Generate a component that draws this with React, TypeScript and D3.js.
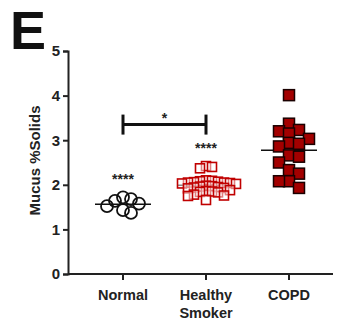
import React, { useEffect, useRef } from "react";
import * as d3 from "d3";

// Groups along the x axis
const categories = ["Normal", "Healthy Smoker", "COPD"];
const categoryLines = [["Normal"], ["Healthy", "Smoker"], ["COPD"]];

// Mucus % solids per subject
const normalValues = [1.52, 1.64, 1.37, 1.58, 1.72, 1.68, 1.43];
const smokerValues = [
  2.42, 2.4, 2.37,
  2.1, 2.09, 2.08, 2.07, 2.06, 2.05, 2.05, 2.04, 2.03, 2.02,
  1.98, 1.97, 1.96, 1.95, 1.94, 1.93, 1.92,
  1.88, 1.86, 1.85, 1.84, 1.83,
  1.78, 1.76, 1.75,
  1.66,
];
const copdValues = [
  4.01, 3.37, 3.2, 3.23, 3.15, 3.03, 2.94, 2.86, 2.92, 2.66, 2.63, 2.5,
  2.33, 2.25, 2.08, 2.08, 1.93,
];

const yTicks = [0, 1, 2, 3, 4, 5];
const groupStars = ["****", "****", ""];
const bracketLabel = "*";
const bracketValue = 3.35;

const W = 340;
const H = 324;
const margin = { top: 51, right: 7, bottom: 50, left: 68 };
const FONT = "'Liberation Sans', Arial, sans-serif";

// simple beeswarm: push points sideways until they stop overlapping
function swarm(values: number[], y: (v: number) => number, step: number, gap: number) {
  const placed: { v: number; dx: number; py: number }[] = [];
  const sorted = [...values].sort((a, b) => b - a);
  for (const v of sorted) {
    const py = y(v);
    let k = 0;
    let dx = 0;
    while (true) {
      dx = k === 0 ? 0 : (k % 2 === 1 ? 1 : -1) * Math.ceil(k / 2) * step;
      const hit = placed.some(
        (p) => Math.abs(p.py - py) < gap && Math.abs(p.dx - dx) < step * 0.9
      );
      if (!hit) break;
      k++;
    }
    placed.push({ v, dx, py });
  }
  return placed;
}

const App: React.FC = () => {
  const ref = useRef<SVGSVGElement>(null);

  useEffect(() => {
    if (!ref.current) return;
    const svg = d3.select(ref.current);
    svg.selectAll("*").remove();

    const y = d3
      .scaleLinear()
      .domain([0, 5])
      .range([H - margin.bottom, margin.top]);
    const x = d3
      .scalePoint<string>()
      .domain(categories)
      .range([margin.left + 55, W - margin.right - 44]);

    // panel letter
    svg
      .append("text")
      .attr("x", 10)
      .attr("y", 49)
      .attr("font-family", FONT)
      .attr("font-weight", "bold")
      .attr("font-size", 54)
      .attr("fill", "#111")
      .text("E");

    // y axis
    const gy = svg
      .append("g")
      .attr("transform", `translate(${margin.left},0)`)
      .call(d3.axisLeft(y).tickValues(yTicks).tickSize(5).tickPadding(3).tickFormat(d3.format("d")));
    gy.select(".domain").attr("stroke", "#222").attr("stroke-width", 2);
    gy.selectAll(".tick line").attr("stroke", "#222").attr("stroke-width", 2);
    gy.selectAll(".tick text")
      .attr("font-family", FONT)
      .attr("font-weight", "bold")
      .attr("font-size", 15)
      .attr("fill", "#222");

    // x axis
    const xAxisY = y(0);
    svg
      .append("line")
      .attr("x1", margin.left)
      .attr("x2", W - margin.right)
      .attr("y1", xAxisY)
      .attr("y2", xAxisY)
      .attr("stroke", "#222")
      .attr("stroke-width", 2);
    categories.forEach((c, i) => {
      const cx = x(c)!;
      svg
        .append("line")
        .attr("x1", cx)
        .attr("x2", cx)
        .attr("y1", xAxisY)
        .attr("y2", xAxisY + 6)
        .attr("stroke", "#222")
        .attr("stroke-width", 2);
      categoryLines[i].forEach((line, j) => {
        svg
          .append("text")
          .attr("x", cx)
          .attr("y", xAxisY + 26 + j * 18)
          .attr("text-anchor", "middle")
          .attr("font-family", FONT)
          .attr("font-weight", "bold")
          .attr("font-size", 14.5)
          .attr("fill", "#222")
          .text(line);
      });
    });

    // y axis title
    svg
      .append("text")
      .attr("transform", `translate(40,${(y(0) + y(5)) / 2 - 2}) rotate(-90)`)
      .attr("text-anchor", "middle")
      .attr("font-family", FONT)
      .attr("font-weight", "bold")
      .attr("font-size", 15)
      .attr("fill", "#222")
      .text("Mucus %Solids");

    // mean lines
    const groups = [normalValues, smokerValues, copdValues];
    groups.forEach((vals, i) => {
      const cx = x(categories[i])!;
      const m = d3.mean(vals)!;
      svg
        .append("line")
        .attr("x1", cx - 28)
        .attr("x2", cx + 28)
        .attr("y1", y(m))
        .attr("y2", y(m))
        .attr("stroke", "#111")
        .attr("stroke-width", 1.5);
    });

    // Normal: open circles
    const nx = x(categories[0])!;
    swarm(normalValues, y, 8, 10).forEach((p) => {
      svg
        .append("circle")
        .attr("cx", nx + p.dx)
        .attr("cy", p.py)
        .attr("r", 6)
        .attr("fill", "none")
        .attr("stroke", "#111")
        .attr("stroke-width", 1.8);
    });

    // Healthy smoker: open red squares
    const sx = x(categories[1])!;
    const ss = 9;
    swarm(smokerValues, y, 6, 5).forEach((p) => {
      svg
        .append("rect")
        .attr("x", sx + p.dx - ss / 2)
        .attr("y", p.py - ss / 2)
        .attr("width", ss)
        .attr("height", ss)
        .attr("fill", "white")
        .attr("fill-opacity", 0.5)
        .attr("stroke", "#c00000")
        .attr("stroke-width", 1.6);
    });

    // COPD: filled dark red squares
    const cx = x(categories[2])!;
    const cs = 11;
    swarm(copdValues, y, 10, 9).forEach((p) => {
      svg
        .append("rect")
        .attr("x", cx + p.dx - cs / 2)
        .attr("y", p.py - cs / 2)
        .attr("width", cs)
        .attr("height", cs)
        .attr("fill", "#a30000")
        .attr("stroke", "#1a0000")
        .attr("stroke-width", 1.5);
    });

    // significance stars above groups
    groups.forEach((vals, i) => {
      if (!groupStars[i]) return;
      const top = d3.max(vals)!;
      svg
        .append("text")
        .attr("x", x(categories[i])!)
        .attr("y", y(top) - 13)
        .attr("text-anchor", "middle")
        .attr("font-family", FONT)
        .attr("font-weight", "bold")
        .attr("font-size", 14)
        .attr("fill", "#222")
        .text(groupStars[i]);
    });

    // bracket Normal vs Healthy Smoker
    const by = y(bracketValue);
    const bx1 = x(categories[0])!;
    const bx2 = x(categories[1])!;
    const bracket = svg.append("g").attr("stroke", "#111").attr("stroke-width", 3);
    bracket.append("line").attr("x1", bx1).attr("x2", bx2).attr("y1", by).attr("y2", by);
    bracket.append("line").attr("x1", bx1).attr("x2", bx1).attr("y1", by - 10).attr("y2", by + 10);
    bracket.append("line").attr("x1", bx2).attr("x2", bx2).attr("y1", by - 10).attr("y2", by + 10);
    svg
      .append("text")
      .attr("x", (bx1 + bx2) / 2)
      .attr("y", by - 2)
      .attr("text-anchor", "middle")
      .attr("font-family", FONT)
      .attr("font-weight", "bold")
      .attr("font-size", 14)
      .attr("fill", "#222")
      .text(bracketLabel);
  }, []);

  return (
    <svg
      ref={ref}
      width={W}
      height={H}
      style={{ position: "absolute", left: 0, top: 0, background: "white" }}
    />
  );
};

export default App;
